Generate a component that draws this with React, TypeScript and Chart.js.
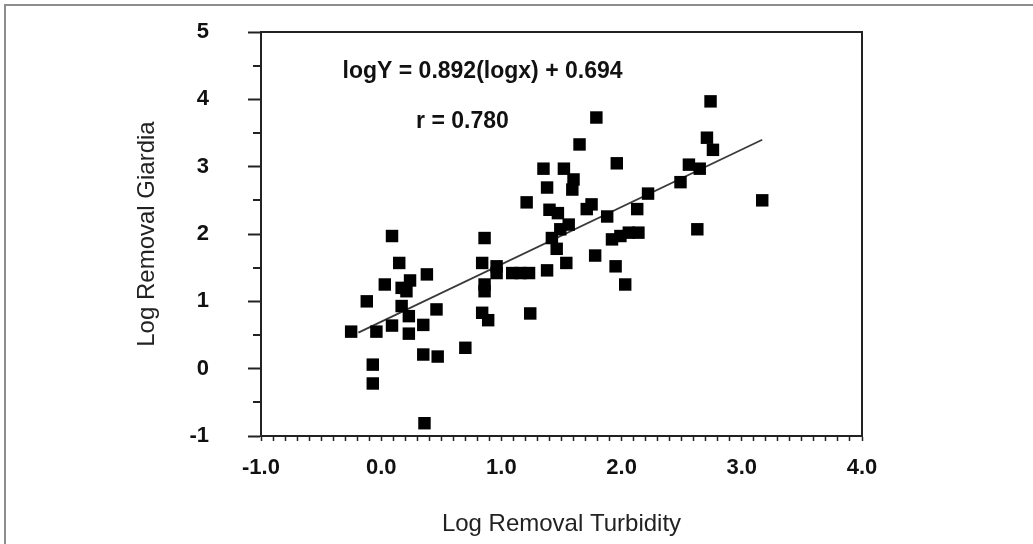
import React, { useEffect, useRef } from 'react';
import { Chart, registerables } from 'chart.js';

Chart.register(...registerables);

// Log removal of turbidity (x) vs. log removal of Giardia (y)
const turbidityX = [
  -0.25, -0.12, -0.07, -0.07, -0.04, 0.03, 0.09, 0.09, 0.15, 0.17,
  0.21, 0.24, 0.17, 0.23, 0.23, 0.38, 0.35, 0.46, 0.35, 0.47,
  0.36, 0.70, 0.86, 0.84, 0.86, 0.86, 0.84, 0.89, 0.96, 0.96,
  1.09, 1.16, 1.23, 1.24, 1.21, 1.35, 1.52, 1.60, 1.59, 1.38,
  1.40, 1.47, 1.56, 1.49, 1.42, 1.46, 1.54, 1.38, 1.65, 1.79,
  1.71, 1.75, 1.78, 1.88, 1.92, 1.99, 2.06, 2.14, 1.95, 2.03,
  1.96, 2.13, 2.22, 2.49, 2.56, 2.65, 2.71, 2.76, 2.74, 2.63,
  3.17,
];
const giardiaY = [
  0.55, 1.00, 0.06, -0.22, 0.55, 1.25, 1.97, 0.64, 1.57, 1.20,
  1.15, 1.31, 0.93, 0.78, 0.52, 1.40, 0.65, 0.88, 0.21, 0.18,
  -0.81, 0.31, 1.94, 1.57, 1.25, 1.15, 0.83, 0.72, 1.52, 1.42,
  1.42, 1.42, 1.42, 0.82, 2.47, 2.97, 2.97, 2.81, 2.66, 2.69,
  2.36, 2.31, 2.14, 2.07, 1.94, 1.78, 1.57, 1.46, 3.33, 3.73,
  2.37, 2.44, 1.68, 2.26, 1.92, 1.97, 2.02, 2.02, 1.52, 1.25,
  3.05, 2.37, 2.60, 2.77, 3.03, 2.97, 3.43, 3.25, 3.97, 2.07,
  2.50,
];

// Regression line end points as drawn
const fitX = [-0.19, 3.17];
const fitY = [0.535, 3.40];

// Annotation texts and their anchor (data units)
const annotationTexts = ['logY = 0.892(logx) + 0.694', 'r = 0.780'];
const annotationX = [0.843, 0.676];
const annotationY = [4.413, 3.67];

const xTitle = 'Log Removal Turbidity';
const yTitle = 'Log Removal Giardia';
const xRange = [-1, 4];
const yRange = [-1, 5];

const FONT = '"Liberation Sans", Arial, Helvetica, sans-serif';
const isInt = (v: number) => Math.abs(v - Math.round(v)) < 1e-6;

const framePlugin = {
  id: 'frameAndNotes',
  afterDraw(chart: any) {
    const { ctx, chartArea: a, scales } = chart;
    ctx.save();
    ctx.strokeStyle = '#222';
    ctx.lineWidth = 2;
    ctx.strokeRect(a.left, a.top, a.right - a.left, a.bottom - a.top);
    const ys = scales.y;
    ys.ticks.forEach((t: any) => {
      if (!isInt(t.value)) {
        const py = Math.round(ys.getPixelForValue(t.value));
        ctx.beginPath();
        ctx.moveTo(a.left - 8, py);
        ctx.lineTo(a.left, py);
        ctx.stroke();
      }
    });
    ctx.font = `bold 23px ${FONT}`;
    ctx.fillStyle = '#111';
    ctx.textAlign = 'center';
    ctx.textBaseline = 'middle';
    annotationTexts.forEach((txt, i) => {
      ctx.fillText(txt, scales.x.getPixelForValue(annotationX[i]), ys.getPixelForValue(annotationY[i]));
    });
    ctx.restore();
  },
};

export default function App() {
  const ref = useRef<HTMLCanvasElement | null>(null);

  useEffect(() => {
    if (!ref.current) return;
    const chart = new Chart(ref.current, {
      type: 'scatter',
      data: {
        datasets: [
          {
            type: 'scatter',
            data: turbidityX.map((x, i) => ({ x, y: giardiaY[i] })),
            pointStyle: 'rect',
            pointRadius: 8.8,
            backgroundColor: '#000',
            borderColor: '#000',
            borderWidth: 0,
            order: 0,
          },
          {
            type: 'line',
            data: fitX.map((x, i) => ({ x, y: fitY[i] })),
            borderColor: '#3a3a3a',
            borderWidth: 1.8,
            pointRadius: 0,
            fill: false,
            order: 1,
          },
        ] as any,
      },
      options: {
        animation: false,
        responsive: false,
        devicePixelRatio: 1,
        layout: { padding: { left: 0, top: 32, right: 171, bottom: 0 } },
        plugins: { legend: { display: false }, tooltip: { enabled: false } },
        scales: {
          x: {
            type: 'linear',
            position: 'bottom',
            min: xRange[0],
            max: xRange[1],
            afterFit: (s: any) => { s.height = 108; },
            border: { display: true, color: '#222', width: 2 },
            grid: {
              display: true,
              drawOnChartArea: false,
              drawTicks: true,
              tickLength: 5,
              tickColor: '#222',
              tickWidth: 1.5,
            },
            ticks: {
              stepSize: 0.1,
              maxTicksLimit: 100,
              autoSkip: false,
              maxRotation: 0,
              minRotation: 0,
              padding: 14,
              color: '#111',
              font: { family: FONT, size: 22, weight: 'bold' },
              callback: (v: any) => (isInt(Number(v)) ? Number(v).toFixed(1) : ''),
            },
            title: {
              display: true,
              text: xTitle,
              color: '#222',
              font: { family: FONT, size: 24, weight: 'normal' },
              padding: { top: 0, bottom: 5 },
            },
          },
          y: {
            type: 'linear',
            min: yRange[0],
            max: yRange[1],
            afterFit: (s: any) => {
              s.width = 261;
              s.paddingTop = 0;
              s.paddingBottom = 0;
            },
            border: { display: true, color: '#222', width: 2 },
            grid: {
              display: true,
              drawOnChartArea: false,
              drawTicks: true,
              tickLength: 13,
              tickWidth: 2,
              tickColor: (c: any) => (c.tick && isInt(c.tick.value) ? '#222' : 'rgba(0,0,0,0)'),
            },
            ticks: {
              stepSize: 0.5,
              autoSkip: false,
              padding: 39,
              color: '#111',
              font: { family: FONT, size: 22, weight: 'bold' },
              callback: (v: any) => (isInt(Number(v)) ? String(Math.round(Number(v))) : ''),
            },
            title: {
              display: true,
              text: yTitle,
              color: '#222',
              font: { family: FONT, size: 24, weight: 'normal' },
              padding: { top: 133, bottom: 0 },
            },
          },
        },
      } as any,
      plugins: [framePlugin],
    });
    return () => chart.destroy();
  }, []);

  return (
    <div style={{ position: 'fixed', left: 0, top: 0, width: 1033, height: 544, background: '#fff', overflow: 'hidden' }}>
      <div
        style={{
          position: 'absolute',
          left: 4,
          top: 4,
          width: 1100,
          height: 600,
          borderTop: '2px solid #8d8d8d',
          borderLeft: '2px solid #8d8d8d',
        }}
      />
      <canvas ref={ref} width={1033} height={544} style={{ position: 'absolute', left: 0, top: 0 }} />
    </div>
  );
}
